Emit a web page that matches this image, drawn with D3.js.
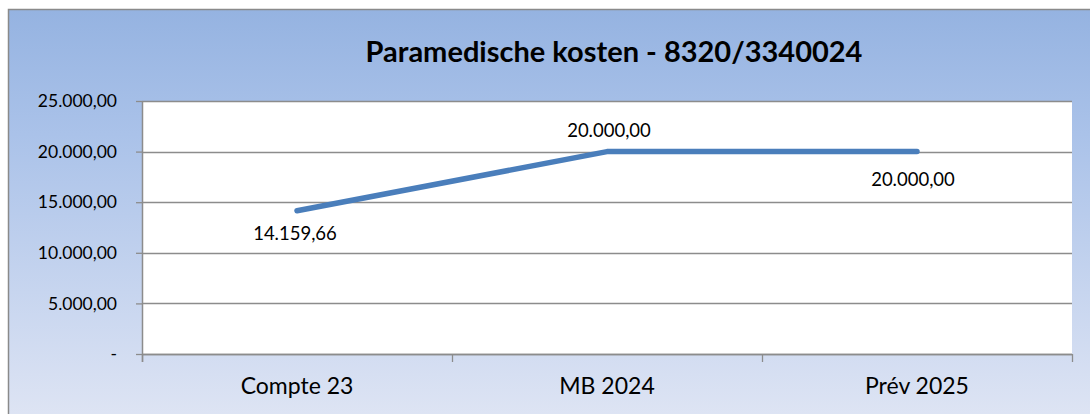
<!DOCTYPE html>
<meta charset="utf-8">
<html>
<head>
  <style>
  body { margin: 0; background: #fff; }
  text { font-family: Lato, "Open Sans", sans-serif; fill: #000; }
  .grid line { stroke: #8c8c8c; stroke-width: 1.3px; }
  </style>
</head>
<body>
  <svg width="1090" height="414"></svg>
</body>
</html>
<script src="https://d3js.org/d3.v7.min.js"></script>
<script>
var categories = ["Compte 23", "MB 2024", "Prév 2025"];
var values = [14159.66, 20000, 20000];
var yTicks = [0, 5000, 10000, 15000, 20000, 25000];
var title = "Paramedische kosten - 8320/3340024";

var svg = d3.select("svg"),
    margin = {top: 101, right: 18, bottom: 60, left: 142},
    width = +svg.attr("width") - margin.left - margin.right,
    height = +svg.attr("height") - margin.top - margin.bottom;

var defs = svg.append("defs");
var grad = defs.append("linearGradient")
    .attr("id", "bg").attr("x1", 0).attr("y1", 0).attr("x2", 0).attr("y2", 1);
grad.append("stop").attr("offset", "0%").attr("stop-color", "#95b3e1");
grad.append("stop").attr("offset", "30%").attr("stop-color", "#aac2e9");
grad.append("stop").attr("offset", "100%").attr("stop-color", "#dfe5f4");

svg.append("rect")
    .attr("x", 8.5).attr("y", 9.5)
    .attr("width", 1090).attr("height", 414)
    .attr("fill", "url(#bg)")
    .attr("stroke", "#8a8a8a")
    .attr("stroke-width", 1.5);

svg.append("text")
    .attr("x", 614).attr("y", 62)
    .attr("text-anchor", "middle")
    .style("font-size", "29px")
    .style("font-weight", "bold")
    .text(title);

var g = svg.append("g").attr("transform", "translate(" + margin.left + "," + margin.top + ")");

var x = d3.scaleBand().domain(categories).range([0, width]);
var y = d3.scaleLinear().domain([0, 25000]).range([height, 0]);

g.append("rect")
    .attr("width", width).attr("height", height)
    .attr("fill", "#fff");

var fmt = function(v) {
  if (v === 0) return "-";
  var s = d3.format(",.2f")(v);
  return s.replace(/,/g, "#").replace(".", ",").replace(/#/g, ".");
};

// horizontal gridlines
g.append("g").attr("class", "grid")
  .selectAll("line").data(yTicks).enter().append("line")
    .attr("x1", 0).attr("x2", width)
    .attr("y1", function(d) { return Math.round(y(d)) + 0.5; })
    .attr("y2", function(d) { return Math.round(y(d)) + 0.5; });

var yAxis = g.append("g")
    .call(d3.axisLeft(y).tickValues(yTicks).tickSize(6).tickPadding(19).tickFormat(fmt));
yAxis.select(".domain").remove();
yAxis.selectAll("line").attr("stroke", "#8c8c8c").attr("stroke-width", 1.3);
yAxis.selectAll("text").style("font-size", "17.5px").attr("fill", "#000");

g.append("line")
    .attr("x1", 0.5).attr("x2", 0.5).attr("y1", 0).attr("y2", height + 8)
    .attr("stroke", "#8c8c8c").attr("stroke-width", 1.5);

// category boundary ticks
var bounds = categories.map(function(c) { return x(c); }).concat([width]);
g.append("g").selectAll("line").data(bounds).enter().append("line")
    .attr("x1", function(d) { return Math.round(d) + 0.5; })
    .attr("x2", function(d) { return Math.round(d) + 0.5; })
    .attr("y1", height).attr("y2", height + 8)
    .attr("stroke", "#8c8c8c").attr("stroke-width", 1.3);

g.append("line")
    .attr("x1", 0).attr("x2", width).attr("y1", height + 0.5).attr("y2", height + 0.5)
    .attr("stroke", "#8c8c8c").attr("stroke-width", 1.5);

g.append("g").selectAll("text").data(categories).enter().append("text")
    .attr("x", function(d) { return x(d) + x.bandwidth() / 2; })
    .attr("y", height + 40)
    .attr("text-anchor", "middle")
    .style("font-size", "23px")
    .text(function(d) { return d; });

var line = d3.line()
    .x(function(d, i) { return x(categories[i]) + x.bandwidth() / 2; })
    .y(function(d) { return y(d); });

g.append("path")
    .datum(values)
    .attr("fill", "none")
    .attr("stroke", "#4a7ebb")
    .attr("stroke-width", 5.5)
    .attr("stroke-linejoin", "round")
    .attr("stroke-linecap", "round")
    .attr("d", line);

var labelDy = [29, -15, 34];
var labelDx = [-2, 2, -4];
g.append("g").selectAll("text").data(values).enter().append("text")
    .attr("x", function(d, i) { return x(categories[i]) + x.bandwidth() / 2 + labelDx[i]; })
    .attr("y", function(d, i) { return y(d) + labelDy[i]; })
    .attr("text-anchor", "middle")
    .style("font-size", "18.5px")
    .text(fmt);
</script>
